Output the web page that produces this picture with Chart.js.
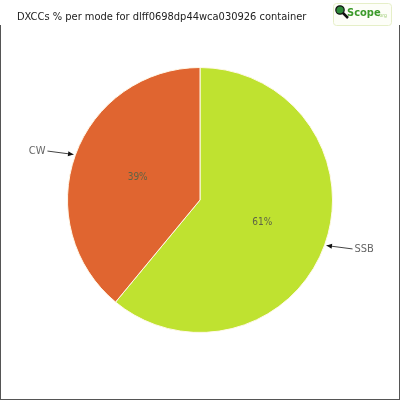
<!DOCTYPE html>
<html><head><meta charset="utf-8">
<script src="https://cdn.jsdelivr.net/npm/chart.js@4"></script>
<style>
html,body{margin:0;padding:0;background:#fff;}
#wrap{position:relative;width:400px;height:400px;}
#frame{position:absolute;left:0;top:25px;width:398px;height:374px;border-left:1px solid #555;border-right:1px solid #555;border-bottom:1px solid #555;}
canvas{position:absolute;left:0;top:0;}
</style></head>
<body>
<div id="wrap"><div id="frame"></div><canvas id="c" width="400" height="400"></canvas></div>
<script>
const titleText = "DXCCs % per mode for dlff0698dp44wca030926 container";
const categories = ["SSB", "CW"];
const percentages = [61, 39];
const colors = ["#bfe230", "#e06530"];

const FONT = '"DejaVu Sans Condensed", "Liberation Sans Narrow", sans-serif';

const labelPlugin = {
  id: 'labels',
  afterDatasetsDraw(chart) {
    const ctx = chart.ctx;
    const meta = chart.getDatasetMeta(0);
    meta.data.forEach((arc, i) => {
      const mid = (arc.startAngle + arc.endAngle) / 2;
      const cx = arc.x, cy = arc.y, r = arc.outerRadius;
      const cos = Math.cos(mid), sin = Math.sin(mid);
      ctx.save();
      ctx.font = '10px ' + FONT;
      ctx.fillStyle = '#5e6446';
      ctx.textAlign = 'center';
      ctx.textBaseline = 'middle';
      ctx.fillText(percentages[i] + '%', cx + cos * r * 0.5, cy + sin * r * 0.5);
      const tx = cx + cos * (r + 2), ty = cy + sin * (r + 2);
      const dir = cos >= 0 ? 1 : -1;
      const lx = tx + dir * 26, ly = ty + sin * 10;
      ctx.strokeStyle = '#444';
      ctx.lineWidth = 1;
      ctx.beginPath();
      ctx.moveTo(lx, ly);
      ctx.lineTo(tx, ty);
      ctx.stroke();
      const ang = Math.atan2(ty - ly, tx - lx);
      ctx.fillStyle = '#111';
      ctx.beginPath();
      ctx.moveTo(tx, ty);
      ctx.lineTo(tx - 6 * Math.cos(ang - 0.45), ty - 6 * Math.sin(ang - 0.45));
      ctx.lineTo(tx - 6 * Math.cos(ang + 0.45), ty - 6 * Math.sin(ang + 0.45));
      ctx.closePath();
      ctx.fill();
      ctx.font = '11px ' + FONT;
      ctx.fillStyle = '#666';
      ctx.textAlign = dir > 0 ? 'left' : 'right';
      ctx.fillText(categories[i], lx + dir * 2, ly);
      ctx.restore();
    });
  },
  afterDraw(chart) {
    const ctx = chart.ctx;
    ctx.save();
    ctx.font = '11px ' + FONT;
    ctx.fillStyle = '#222';
    ctx.textAlign = 'left';
    ctx.textBaseline = 'middle';
    ctx.fillText(titleText, 17, 17);
    // logo
    const x0 = 333, y0 = 3, w = 58, h = 22;
    ctx.strokeStyle = '#e6efc8';
    ctx.lineWidth = 1;
    ctx.fillStyle = '#fdfef8';
    ctx.beginPath();
    ctx.roundRect(x0 + 0.5, y0 + 0.5, w, h, 3);
    ctx.fill();
    ctx.stroke();
    ctx.strokeStyle = '#111';
    ctx.lineWidth = 2.5;
    ctx.beginPath();
    ctx.moveTo(343, 13); ctx.lineTo(348, 18);
    ctx.stroke();
    ctx.fillStyle = '#2e8b3a';
    ctx.beginPath();
    ctx.arc(340, 10, 4.2, 0, Math.PI * 2);
    ctx.fill();
    ctx.lineWidth = 1.2;
    ctx.stroke();
    ctx.font = 'bold 11px ' + FONT;
    ctx.fillStyle = '#3c9a2a';
    ctx.fillText('Scope', 347, 13);
    ctx.font = '5px ' + FONT;
    ctx.fillStyle = '#9acb70';
    ctx.fillText('.org', 378, 16);
    ctx.restore();
  }
};

new Chart(document.getElementById('c'), {
  type: 'pie',
  data: {
    labels: categories,
    datasets: [{
      data: percentages,
      backgroundColor: colors,
      borderColor: '#fff8e8',
      borderWidth: 1
    }]
  },
  options: {
    responsive: false,
    animation: false,
    devicePixelRatio: 1,
    layout: { padding: { top: 67, bottom: 67, left: 67, right: 67 } },
    plugins: { legend: { display: false }, tooltip: { enabled: false }, title: { display: false } }
  },
  plugins: [labelPlugin]
});
</script>
</body></html>
